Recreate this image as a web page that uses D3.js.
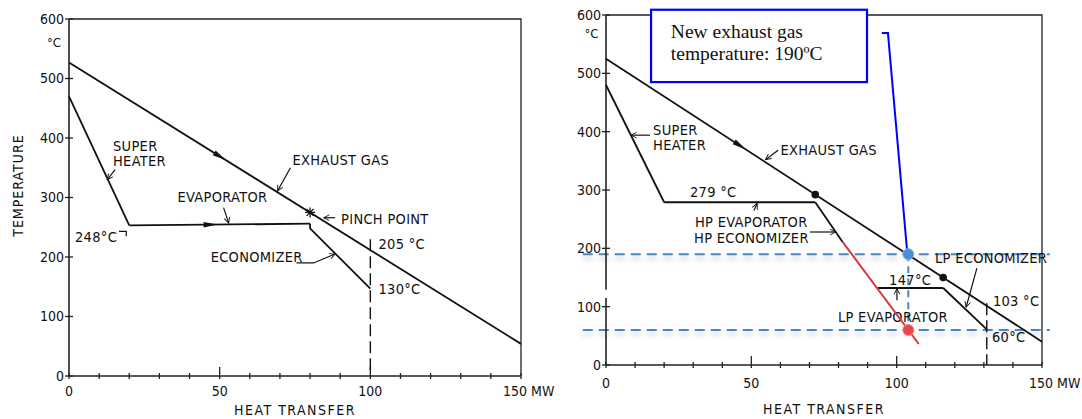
<!DOCTYPE html>
<html>
<head>
<meta charset="utf-8">
<script src="https://cdn.jsdelivr.net/npm/d3@7"></script>
<style>
  body { margin: 0; background: #fff; }
  svg text { font-family: "Liberation Sans Narrow", "DejaVu Sans Condensed", "Roboto Condensed", "Liberation Sans", sans-serif; font-stretch: condensed; fill: #111; }
  .serif { font-family: "Liberation Serif", "DejaVu Serif", serif !important; font-stretch: normal !important; }
</style>
</head>
<body>
<svg id="chart" width="1082" height="419"></svg>
<script>
// ---------- left panel (single pressure) ----------
var leftExhaust = [[0, 527], [150, 54]];
var leftSuperheater = [[0, 470], [20, 253]];
var leftEvaporator = [[20, 253], [80, 256]];
var leftEconomizer = [[80, 256], [80, 248], [100, 147]];
var leftPinch = [80, 275];
var leftDash = [[100, 230], [100, 0]];
var leftFlowArrows = [[leftExhaust, 51], [leftEvaporator, 48]];
var leftLabels = [
  ["SUPER", 14.6, 378], ["HEATER", 14.6, 353],
  ["EVAPORATOR", 36, 293], ["248°C", 2, 226],
  ["ECONOMIZER", 47, 191], ["EXHAUST GAS", 74.2, 355],
  ["PINCH  POINT", 90.3, 255], ["205 °C", 102.7, 213], ["130°C", 102.7, 137]
];
var leftLeaders = [
  [[15.3, 347], [12.7, 330]],
  [[51.3, 283], [53, 257]],
  [[75.5, 190], [81.2, 190], [88.3, 205]],
  [[73.5, 350], [69.2, 311]],
  [[88.3, 266], [84.5, 266]]
];

// ---------- right panel (dual pressure) ----------
var rightExhaust = [[0, 525], [150, 40]];
var rightSuperheater = [[0, 480], [20, 279]];
var rightHpEvaporator = [[20, 279], [72, 279]];
var rightHpEconomizer = [[72, 279], [81.4, 211]];
var rightHpEconomizerNew = [[81.4, 211], [107.6, 36]];
var rightLpEvaporator = [[93.5, 132], [116, 132]];
var rightLpEconomizer = [[116, 132], [131, 61]];
var rightDots = [[72, 292], [116, 150]];
var rightDash = [[131, 106], [131, 0]];
var newGasTemp = 190;
var newWaterTemp = 60;
var newPointHeat = 104;
var rightFlowArrows = [[rightExhaust, 47]];
var rightLabels = [
  ["SUPER", 16.2, 394], ["HEATER", 16.2, 369],
  ["279 °C", 28.9, 288], ["HP EVAPORATOR", 30.6, 237], ["HP ECONOMIZER", 30.3, 209],
  ["EXHAUST GAS", 60, 360], ["LP ECONOMIZER", 113.2, 175], ["147°C", 97.4, 137],
  ["103 °C", 133.1, 101], ["LP EVAPORATOR", 79.8, 74], ["60°C", 132.8, 39]
];
var rightLeaders = [
  [[15.1, 394], [8.6, 394]],
  [[50.9, 265], [52, 277]],
  [[70.2, 228], [79, 228]],
  [[59.2, 368], [54.9, 352]],
  [[127.6, 166], [123.9, 99]],
  [[100.1, 111], [100.1, 131]]
];
var calloutLines = ["New exhaust gas", "temperature: 190ºC"];

// shared axis values
var yTicks = [0, 100, 200, 300, 400, 500, 600];
var xMinorTicks = d3.range(0, 151, 10);
var xTickLabels = [[0, "0"], [50, "50"], [100, "100"], [150, "150 MW"]];

var svg = d3.select("#chart");
var defs = svg.append("defs");
defs.append("marker").attr("id", "tip").attr("viewBox", "0 -5 10 10")
  .attr("refX", 9).attr("refY", 0).attr("markerWidth", 7).attr("markerHeight", 7)
  .attr("orient", "auto").attr("markerUnits", "userSpaceOnUse")
  .append("path").attr("d", "M1,-4L9,0L1,4").attr("fill", "none").attr("stroke", "#111").attr("stroke-width", 1.3);
defs.append("filter").attr("id", "blur").attr("filterUnits", "userSpaceOnUse")
  .attr("x", 0).attr("y", 0).attr("width", 1082).attr("height", 419)
  .append("feGaussianBlur").attr("stdDeviation", 2.5);

var line = function(x, y) {
  return d3.line().x(function(d) { return x(d[0]); }).y(function(d) { return y(d[1]); });
};

function drawPanel(p) {
  var g = svg.append("g");
  var x = p.x, y = p.y;

  // frame and axes
  g.append("path")
    .attr("d", "M" + x(0) + "," + y(600) + "H" + x(150) + "V" + y(0))
    .attr("fill", "none").attr("stroke", "#222").attr("stroke-width", 1.3);
  p.yAxisSpans.forEach(function(s) {
    g.append("line").attr("x1", x(0)).attr("x2", x(0)).attr("y1", y(s[0])).attr("y2", y(s[1]))
      .attr("stroke", "#222").attr("stroke-width", 1.6);
  });
  g.append("line").attr("x1", x(0)).attr("x2", x(150)).attr("y1", y(0)).attr("y2", y(0))
    .attr("stroke", "#222").attr("stroke-width", 1.6);

  g.selectAll(".ytick").data(yTicks).join("line")
    .attr("x1", x(0) - 4).attr("x2", x(0) + 4)
    .attr("y1", function(d) { return y(d); }).attr("y2", function(d) { return y(d); })
    .attr("stroke", "#222").attr("stroke-width", 1.3);
  g.selectAll(".ylab").data(yTicks).join("text")
    .attr("x", x(0) - 5).attr("y", function(d) { return y(d); }).attr("dy", "0.35em")
    .attr("text-anchor", "end").attr("font-size", 14)
    .text(function(d) { return d; });
  g.append("text").attr("x", x(-5)).attr("y", y(p.unitY)).attr("font-size", 13).attr("text-anchor", "middle").text("°C");

  g.selectAll(".xtick").data(xMinorTicks).join("line")
    .attr("x1", function(d) { return x(d); }).attr("x2", function(d) { return x(d); })
    .attr("y1", function(d) { return y(0) + 3; })
    .attr("y2", function(d) { return d % 50 == 0 && d > 0 && d < 150 ? y(0) - 9 : y(0) - 3; })
    .attr("stroke", "#222").attr("stroke-width", 1.3);
  g.selectAll(".xlab").data(xTickLabels).join("text")
    .attr("x", function(d) { return d[0] == 150 ? x(150) + p.mwShift : x(d[0]); })
    .attr("y", p.xLabelY)
    .attr("text-anchor", function(d) { return d[0] == 150 ? "start" : "middle"; })
    .attr("font-size", 14)
    .text(function(d) { return d[1]; });
  g.append("text").attr("x", x(75)).attr("y", p.titleY).attr("text-anchor", "middle")
    .attr("font-size", 14).attr("letter-spacing", 1.5).text("HEAT TRANSFER");

  if (p.dash) {
    g.append("path").attr("d", line(x, y)(p.dash)).attr("stroke", "#111").attr("stroke-width", 1.4)
      .attr("stroke-dasharray", "12,5").attr("fill", "none");
  }

  // process lines
  p.curves.forEach(function(c) {
    g.append("path").attr("d", line(x, y)(c)).attr("fill", "none")
      .attr("stroke", "#111").attr("stroke-width", 1.8).attr("stroke-linejoin", "round");
  });

  // flow arrows along lines
  p.flowArrows.forEach(function(a) {
    var seg = a[0], q = a[1];
    var t = (q - seg[0][0]) / (seg[seg.length - 1][0] - seg[0][0]);
    var v = seg[0][1] + t * (seg[seg.length - 1][1] - seg[0][1]);
    var ang = Math.atan2(y(seg[1][1]) - y(seg[0][1]), x(seg[1][0]) - x(seg[0][0])) * 180 / Math.PI;
    g.append("path").attr("d", "M-10,-2.8L4,0L-10,2.8Z")
      .attr("transform", "translate(" + x(q) + "," + y(v) + ") rotate(" + ang + ")")
      .attr("fill", "#111");
  });

  // leaders and labels
  p.leaders.forEach(function(l) {
    g.append("path").attr("d", line(x, y)(l)).attr("fill", "none")
      .attr("stroke", "#111").attr("stroke-width", 1.2).attr("marker-end", "url(#tip)");
  });
  g.selectAll(".lab").data(p.labels).join("text")
    .attr("x", function(d) { return x(d[1]); }).attr("y", function(d) { return y(d[2]); })
    .attr("font-size", p.labelSize).attr("letter-spacing", 0.3)
    .text(function(d) { return d[0]; });
  return g;
}

// left panel
var lx = d3.scaleLinear().domain([0, 150]).range([69, 521]);
var ly = d3.scaleLinear().domain([0, 600]).range([376, 19]);
var gl = drawPanel({
  x: lx, y: ly, yAxisSpans: [[0, 600]], unitY: 553, xLabelY: 396, titleY: 415, mwShift: -18, labelSize: 14.5,
  curves: [leftExhaust, leftSuperheater, leftEvaporator, leftEconomizer],
  flowArrows: leftFlowArrows, labels: leftLabels, leaders: leftLeaders, dash: leftDash
});
gl.append("text").attr("transform", "translate(23," + ly(320) + ") rotate(-90)")
  .attr("text-anchor", "middle").attr("font-size", 14).attr("letter-spacing", 1).text("TEMPERATURE");
// pinch point marker
gl.append("path")
  .attr("d", "M-5,0H5M0,-5V5M-3.5,-3.5L3.5,3.5M-3.5,3.5L3.5,-3.5")
  .attr("transform", "translate(" + lx(leftPinch[0]) + "," + ly(leftPinch[1]) + ")")
  .attr("stroke", "#111").attr("stroke-width", 1.3);
// small corner mark after 248 °C
gl.append("path").attr("d", line(lx, ly)([[16.6, 243], [19, 243], [19, 235]]))
  .attr("fill", "none").attr("stroke", "#111").attr("stroke-width", 1.2);

// right panel
var rx = d3.scaleLinear().domain([0, 150]).range([606, 1042]);
var ry = d3.scaleLinear().domain([0, 600]).range([365, 15]);

// blue guide lines with soft shadow (drawn under the process lines)
var guide = svg.append("g");
[newGasTemp, newWaterTemp].forEach(function(t) {
  guide.append("line").attr("x1", rx(-8)).attr("x2", rx(152.7)).attr("y1", ry(t) + 4).attr("y2", ry(t) + 4)
    .attr("stroke", "#bbb").attr("stroke-width", 3).attr("stroke-dasharray", "10,6")
    .attr("opacity", 0.6).attr("filter", "url(#blur)");
  guide.append("line").attr("x1", rx(-8)).attr("x2", rx(152.7)).attr("y1", ry(t)).attr("y2", ry(t))
    .attr("stroke", "#4a86c8").attr("stroke-width", 2).attr("stroke-dasharray", "10,6");
});
guide.append("line").attr("x1", rx(newPointHeat)).attr("x2", rx(newPointHeat))
  .attr("y1", ry(newGasTemp)).attr("y2", ry(newWaterTemp))
  .attr("stroke", "#4a86c8").attr("stroke-width", 2).attr("stroke-dasharray", "7,5");

var gr = drawPanel({
  x: rx, y: ry, yAxisSpans: [[0, 115], [129, 600]], unitY: 560, xLabelY: 388, titleY: 414, mwShift: -13, labelSize: 14.5,
  curves: [rightExhaust, rightSuperheater, rightHpEvaporator, rightHpEconomizer, rightLpEvaporator, rightLpEconomizer],
  flowArrows: rightFlowArrows, labels: rightLabels, leaders: rightLeaders, dash: rightDash
});
gr.append("path").attr("d", line(rx, ry)(rightHpEconomizerNew)).attr("fill", "none")
  .attr("stroke", "#d9363e").attr("stroke-width", 2);
gr.selectAll(".dot").data(rightDots).join("circle")
  .attr("cx", function(d) { return rx(d[0]); }).attr("cy", function(d) { return ry(d[1]); })
  .attr("r", 3.8).attr("fill", "#111");

// callout box
gr.append("rect").attr("x", rx(15.5)).attr("y", ry(609)).attr("width", rx(89.8) - rx(15.5)).attr("height", ry(485) - ry(609))
  .attr("fill", "#fff").attr("stroke", "#0000ff").attr("stroke-width", 2.2);
gr.selectAll(".call").data(calloutLines).join("text").attr("class", "serif")
  .attr("x", rx(22.3)).attr("y", function(d, i) { return ry(560) + i * 22; })
  .attr("font-size", 19.5)
  .text(function(d) { return d; });
gr.append("path").attr("d", line(rx, ry)([[94.9, 569], [97, 569], [103.6, 195]]))
  .attr("fill", "none").attr("stroke", "#0000ff").attr("stroke-width", 2);

// highlighted points
gr.append("circle").attr("cx", rx(newPointHeat)).attr("cy", ry(newGasTemp)).attr("r", 5.5)
  .attr("fill", "#4a8fd8").attr("stroke", "#7fb2ea").attr("stroke-width", 1);
gr.append("circle").attr("cx", rx(newPointHeat)).attr("cy", ry(newWaterTemp)).attr("r", 5.5)
  .attr("fill", "#e9474d").attr("stroke", "#f08a8e").attr("stroke-width", 1);
</script>
</body>
</html>
